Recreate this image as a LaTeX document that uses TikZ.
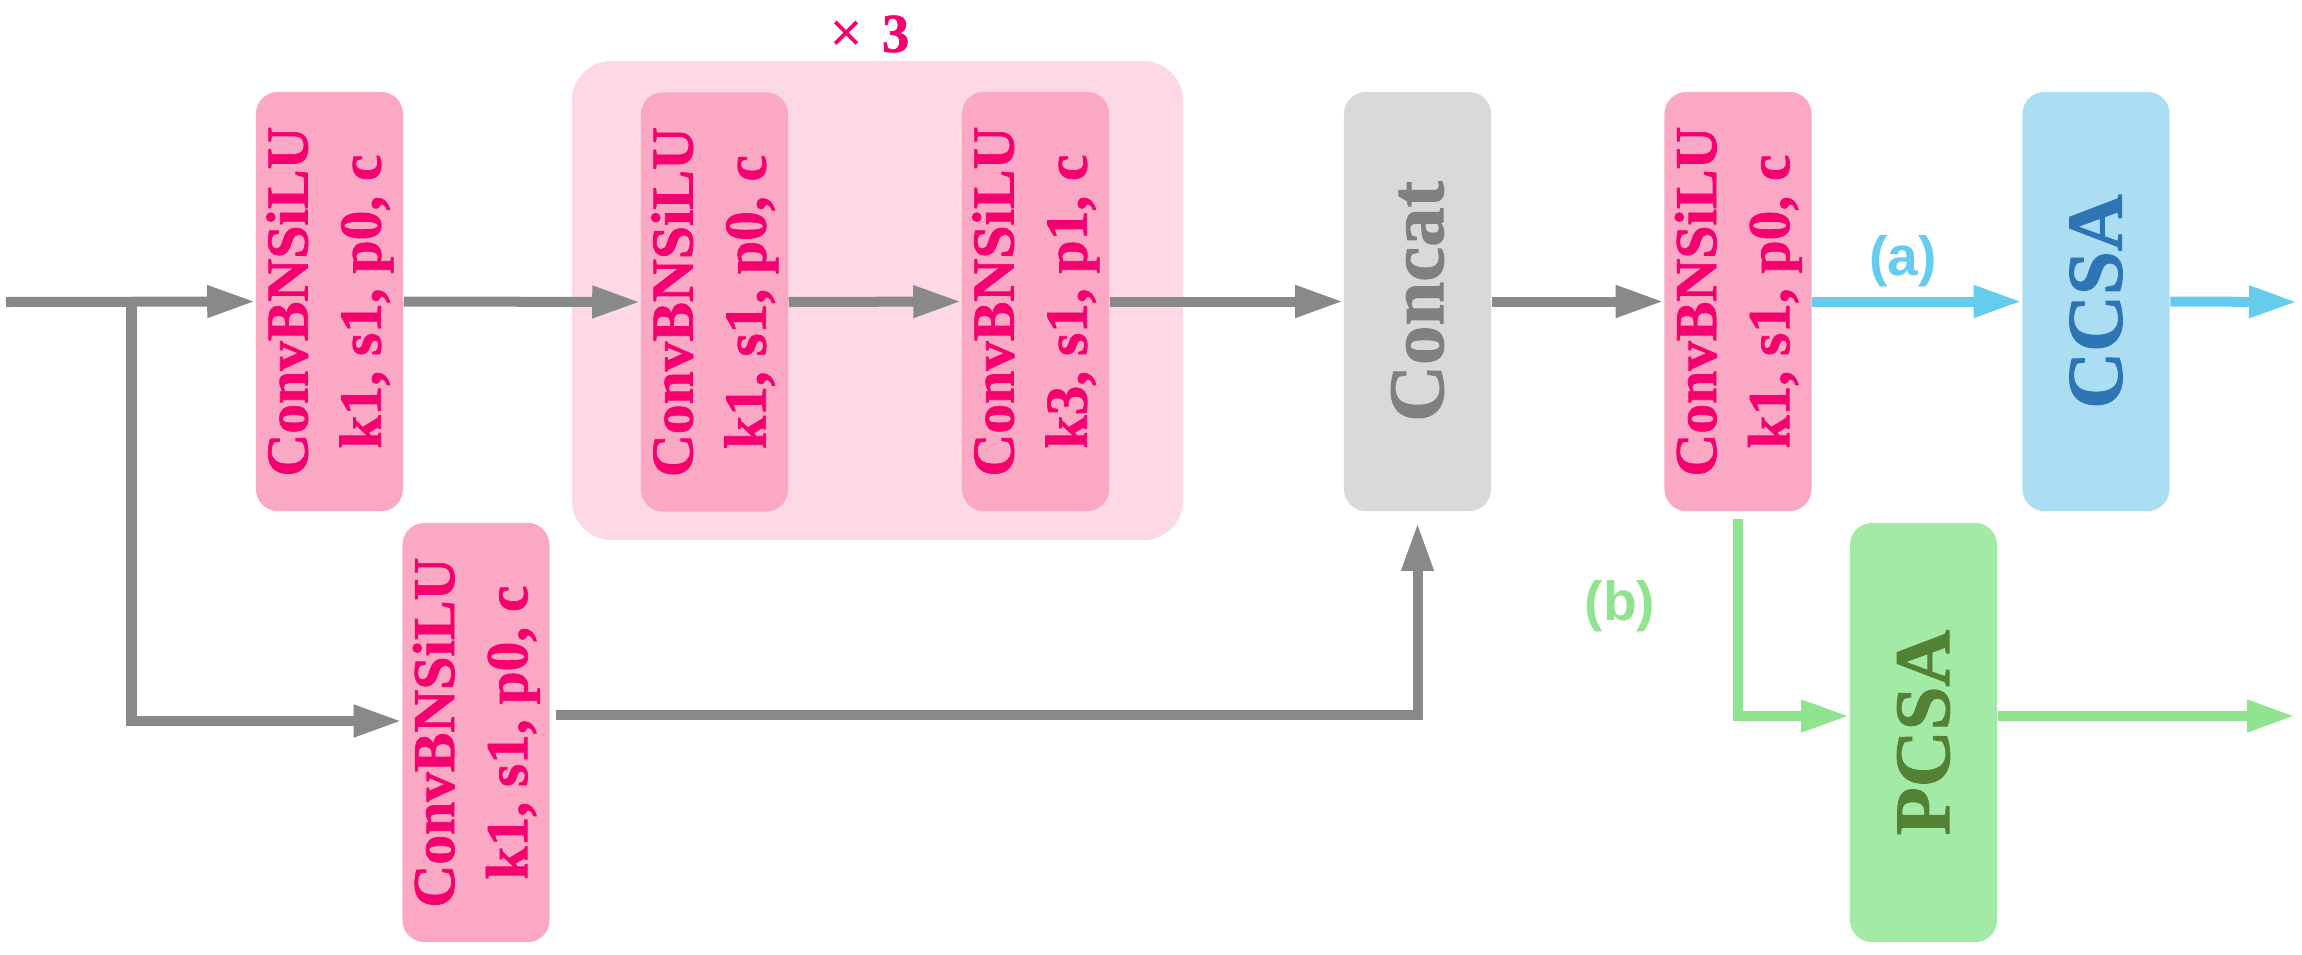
\documentclass[tikz,border=0pt]{standalone}
\usepackage{fontspec}
\setmainfont{Liberation Serif}[BoldFeatures={FakeBold=1.2}]
\newfontfamily\sansf{Liberation Sans}
\usetikzlibrary{arrows.meta,calc}
\definecolor{pinkfill}{RGB}{250,168,195}
\definecolor{pinkbg}{RGB}{253,217,227}
\definecolor{pinktext}{RGB}{245,0,110}
\definecolor{grayfill}{RGB}{217,217,217}
\definecolor{graytext}{RGB}{128,128,128}
\definecolor{grayline}{RGB}{137,137,137}
\definecolor{bluefill}{RGB}{172,222,243}
\definecolor{bluetext}{RGB}{46,117,182}
\definecolor{blueline}{RGB}{102,204,238}
\definecolor{greenfill}{RGB}{163,234,167}
\definecolor{greentext}{RGB}{84,130,53}
\definecolor{greenline}{RGB}{144,228,144}
\newcommand\cbstext[1]{\rotatebox{90}{\fontsize{16.9}{20.8}\selectfont\bfseries\begin{tabular}{@{}c@{}}ConvBNSiLU\\#1\end{tabular}}}
\newcommand\bigtext[1]{\rotatebox{90}{\fontsize{22.4}{26}\selectfont\bfseries #1}}
\tikzset{
  blk/.style={rounded corners=0.22cm, minimum width=1.47cm, minimum height=4.19cm, inner sep=0pt, align=center},
  pinkbox/.style={blk, fill=pinkfill, text=pinktext},
  conn/.style={line width=0.1cm, -{Triangle[length=0.48cm,width=0.30cm]}},
  gconn/.style={conn, draw=grayline},
  bconn/.style={conn, draw=blueline},
  nconn/.style={conn, draw=greenline},
}
\begin{document}
\begin{tikzpicture}[x=0.01cm, y=-0.01cm]
\useasboundingbox (0,0) rectangle (2302,954);
% repeat background
\node[fill=pinkbg, rounded corners=0.4cm, minimum width=6.11cm, minimum height=4.79cm, inner sep=0pt] (rep) at (877.5,300.5) {};
\node[text=pinktext, inner sep=0pt] (rep3) at (870,34) {\fontsize{15.6}{18}\selectfont{\sansf ×}\hspace{0.35em}\bfseries 3};
% boxes
\node[pinkbox] (b1) at (329.5,301.5) {\cbstext{k1, s1, p0, c}};
\node[pinkbox] (b2) at (714.5,302) {\cbstext{k1, s1, p0, c}};
\node[pinkbox] (b3) at (1035.5,301.5) {\cbstext{k3, s1, p1, c}};
\node[blk, fill=grayfill, text=graytext] (cat) at (1417.5,301.5) {\bigtext{Concat}};
\node[pinkbox] (b5) at (1738,301.5) {\cbstext{k1, s1, p0, c}};
\node[blk, fill=bluefill, text=bluetext] (ccsa) at (2096,301.5) {\bigtext{CCSA}};
\node[pinkbox] (b4) at (476,732.5) {\cbstext{k1, s1, p0, c}};
\node[blk, fill=greenfill, text=greentext] (pcsa) at (1923.5,732.5) {\bigtext{PCSA}};
% labels
\node[text=blueline, inner sep=0pt] (la) at (1903,261) {\sansf\bfseries\fontsize{15.7}{18}\selectfont (a)};
\node[text=greenline, inner sep=0pt] (lb) at (1620,606) {\sansf\bfseries\fontsize{15.7}{18}\selectfont (b)};
% free ends
\coordinate (in) at (6,302);
\coordinate (br) at (131.5,302);
\coordinate (outa) at (2297,302);
\coordinate (outb) at (2295,716);
% gray connectors
\draw[gconn] (in) -- (b1.west);
\draw[gconn] (br) |- ($(b4.west)+(0,-11.5)$);
\draw[gconn] (b1.east) -- (b2.west);
\draw[gconn] (b2.east) -- (b3.west);
\draw[gconn] (b3.east) -- (cat.west);
\draw[gconn] (cat.east) -- (b5.west);
\draw[gconn, shorten <=0.06cm, shorten >=0.11cm] ($(b4.east)+(0,-17.5)$) -| (cat.south);
% blue connectors
\draw[bconn] (b5.east) -- (ccsa.west);
\draw[bconn] (ccsa.east) -- (outa);
% green connectors
\draw[nconn, shorten <=0.07cm] (b5.south) |- ($(pcsa.west)+(0,-16.5)$);
\draw[nconn] ($(pcsa.east)+(0,-16.5)$) -- (outb);
\end{tikzpicture}
\end{document}
